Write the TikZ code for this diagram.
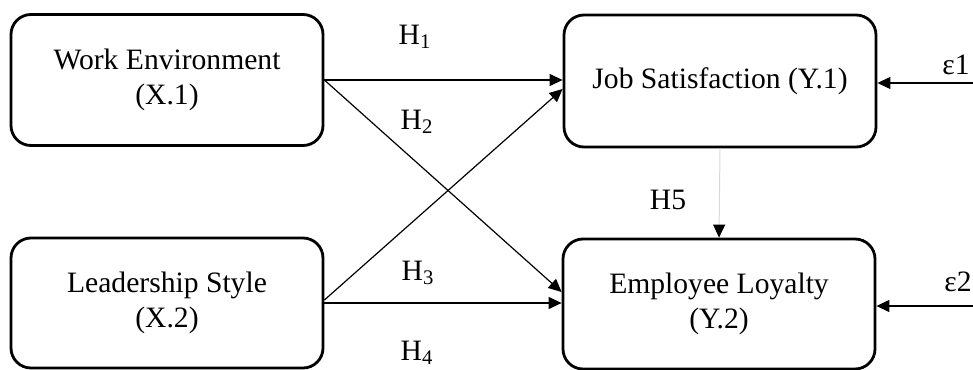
\documentclass[tikz,border=0pt]{standalone}
\usepackage{fontspec}
\setmainfont{Liberation Serif}
\usetikzlibrary{arrows.meta}
\begin{document}
\begin{tikzpicture}[x=0.5pt,y=-0.5pt,font=\fontsize{14.8}{17.8}\selectfont,
    varbox/.style={draw,rectangle,rounded corners=10pt,line width=1.4pt,align=center,minimum width=156pt},
    path/.style={-{Triangle[length=6.5pt,width=6pt]},line width=0.6pt}]
                \useasboundingbox (0,0) rectangle (973,369);
                \node[varbox,minimum height=65.5pt] (wenv) at (167,80) {Work Environment\\(X.1)};
                \node[varbox,minimum height=65pt] (lead) at (167,303) {Leadership Style\\(X.2)};
                \node[varbox,minimum height=66pt] (jsat) at (720,81) {Job Satisfaction (Y.1)};
                \node[varbox,minimum height=65pt] (eloy) at (719,304) {Employee Loyalty\\(Y.2)};
                \coordinate (r1) at (973,83);
                \coordinate (r2) at (973,306);
                \draw[path] (wenv.east) -- (wenv.east -| jsat.west);
                \draw[path] (wenv.east) -- ([yshift=6pt]eloy.west);
                \draw[path] ([yshift=1.5pt]lead.east) -- ([yshift=-4pt]jsat.west);
                \draw[path] (lead.east) -- (lead.east -| eloy.west);
                \draw[-{Triangle[length=6.5pt,width=6pt,color=black]},line width=0.5pt,draw=gray!30] (jsat.south) -- (eloy.north);
                \draw[path] (r1) -- (r1 -| jsat.east);
                \draw[path] (r2) -- (r2 -| eloy.east);
                \node (h1) at (415,37) {H\textsubscript{1}};
                \node (h2) at (417,122) {H\textsubscript{2}};
                \node (h3) at (418,273) {H\textsubscript{3}};
                \node (h4) at (417,353) {H\textsubscript{4}};
                \node (h5) at (668,200) {H5};
                \node (e1) at (956,65) {ε1};
                \node (e2) at (958,282) {ε2};
            \end{tikzpicture}
\end{document}
